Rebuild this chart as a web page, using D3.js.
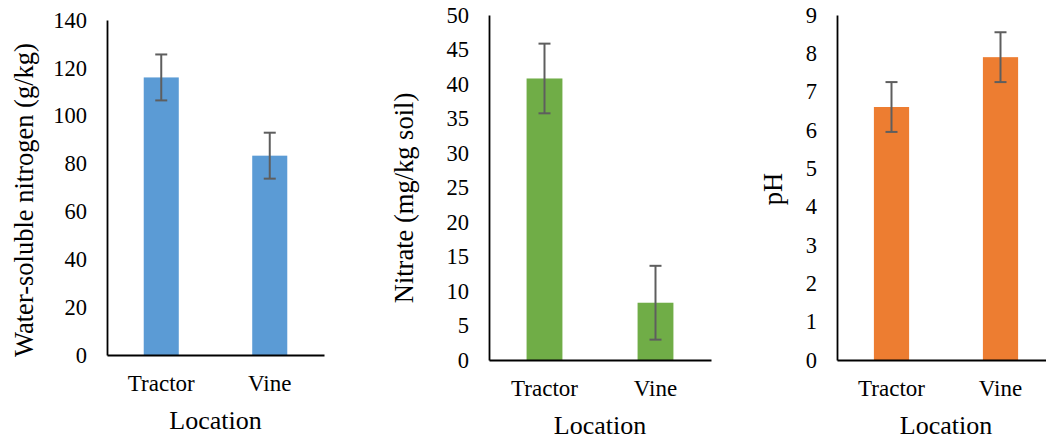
<!DOCTYPE html>
<html>
<head>
<meta charset="utf-8">
<script src="https://cdn.jsdelivr.net/npm/d3@7"></script>
<style>
  html, body { margin: 0; padding: 0; background: #fff; }
  svg { display: block; }
  svg text { font-family: "Liberation Serif", "Times New Roman", serif; }
</style>
</head>
<body>
<svg id="chart" width="1046" height="440"></svg>
<script>
// Soil measurements by sampling location
const categories = ["Tractor", "Vine"];

const nitrogenMean = [116.0, 83.3];
const nitrogenErr  = [9.6, 9.6];
const nitrogenTicks = [0, 20, 40, 60, 80, 100, 120, 140];

const nitrateMean = [40.8, 8.3];
const nitrateErr  = [5.05, 5.35];
const nitrateTicks = [0, 5, 10, 15, 20, 25, 30, 35, 40, 45, 50];

const phMean = [6.6, 7.9];
const phErr  = [0.65, 0.65];
const phTicks = [0, 1, 2, 3, 4, 5, 6, 7, 8, 9];

const xTitle = "Location";

const panels = [
  { mean: nitrogenMean, err: nitrogenErr, ticks: nitrogenTicks, max: 140,
    title: "Water-soluble nitrogen (g/kg)", color: "#5B9BD5",
    x0: 107, x1: 324, top: 20, bottom: 355, titleX: 33, titleY: 200 },
  { mean: nitrateMean, err: nitrateErr, ticks: nitrateTicks, max: 50,
    title: "Nitrate (mg/kg soil)", color: "#70AD47",
    x0: 489, x1: 711, top: 15, bottom: 360, titleX: 413, titleY: 198 },
  { mean: phMean, err: phErr, ticks: phTicks, max: 9,
    title: "pH", color: "#ED7D31",
    x0: 837, x1: 1055, top: 15, bottom: 360, titleX: 782, titleY: 189 }
];

const FONT = "'Liberation Serif', 'Times New Roman', serif";
const svg = d3.select("#chart");

panels.forEach(p => {
  const g = svg.append("g");

  const x = d3.scaleBand()
    .domain(categories)
    .range([p.x0, p.x1])
    .paddingInner(0.677)
    .paddingOuter(0.3385);

  const y = d3.scaleLinear()
    .domain([0, p.max])
    .range([p.bottom, p.top]);

  // bars
  g.selectAll("rect.bar")
    .data(categories)
    .join("rect")
    .attr("class", "bar")
    .attr("x", d => x(d))
    .attr("width", x.bandwidth())
    .attr("y", (d, i) => y(p.mean[i]))
    .attr("height", (d, i) => y(0) - y(p.mean[i]))
    .attr("fill", p.color);

  // error bars
  const capHalf = 6;
  const eb = g.selectAll("g.err")
    .data(categories)
    .join("g")
    .attr("class", "err")
    .attr("stroke", "#5E5E5E")
    .attr("stroke-width", 2)
    .attr("fill", "none");
  eb.append("line")
    .attr("x1", d => x(d) + x.bandwidth() / 2)
    .attr("x2", d => x(d) + x.bandwidth() / 2)
    .attr("y1", (d, i) => y(p.mean[i] + p.err[i]))
    .attr("y2", (d, i) => y(p.mean[i] - p.err[i]));
  eb.append("line")
    .attr("x1", d => x(d) + x.bandwidth() / 2 - capHalf)
    .attr("x2", d => x(d) + x.bandwidth() / 2 + capHalf)
    .attr("y1", (d, i) => y(p.mean[i] + p.err[i]))
    .attr("y2", (d, i) => y(p.mean[i] + p.err[i]));
  eb.append("line")
    .attr("x1", d => x(d) + x.bandwidth() / 2 - capHalf)
    .attr("x2", d => x(d) + x.bandwidth() / 2 + capHalf)
    .attr("y1", (d, i) => y(p.mean[i] - p.err[i]))
    .attr("y2", (d, i) => y(p.mean[i] - p.err[i]));

  // y axis
  const ya = g.append("g")
    .attr("transform", `translate(${p.x0},0)`)
    .call(d3.axisLeft(y).tickValues(p.ticks).tickSize(0).tickSizeOuter(0).tickPadding(20)
      .tickFormat(d3.format("d")));
  ya.attr("font-family", null);
  ya.select(".domain").attr("stroke", "#000").attr("stroke-width", 1.8);
  ya.selectAll("text")
    .style("font-family", FONT)
    .style("font-size", "22.5px")
    .attr("fill", "#000");

  // x axis
  const xa = g.append("g")
    .attr("transform", `translate(0,${p.bottom})`)
    .call(d3.axisBottom(x).tickSize(0).tickSizeOuter(0).tickPadding(20));
  xa.attr("font-family", null);
  xa.select(".domain").attr("stroke", "#000").attr("stroke-width", 1.8);
  xa.selectAll("text")
    .style("font-family", FONT)
    .style("font-size", "23px")
    .attr("fill", "#000");

  // axis titles
  g.append("text")
    .attr("x", (p.x0 + p.x1) / 2)
    .attr("y", p.bottom + 74)
    .attr("text-anchor", "middle")
    .style("font-family", FONT)
    .style("font-size", "26px")
    .attr("fill", "#000")
    .text(xTitle);

  g.append("text")
    .attr("transform", `translate(${p.titleX},${p.titleY}) rotate(-90)`)
    .attr("text-anchor", "middle")
    .style("font-family", FONT)
    .style("font-size", "26.5px")
    .attr("fill", "#000")
    .text(p.title);
});
</script>
</body>
</html>
